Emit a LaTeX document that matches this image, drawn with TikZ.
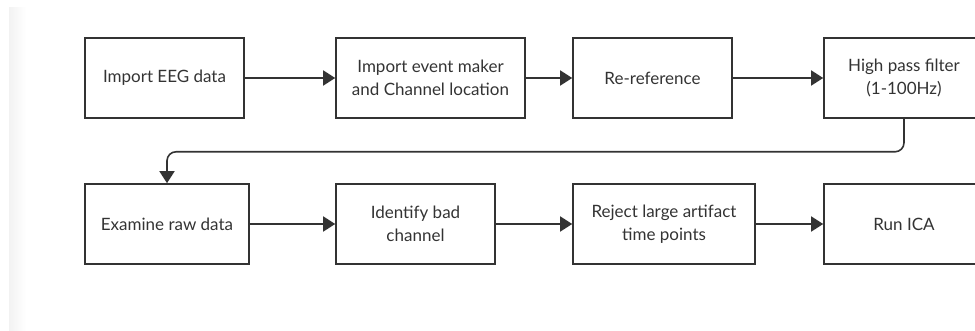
\documentclass[tikz,border=0pt]{standalone}
\usepackage{fontspec}
\setmainfont{Lato}
\usetikzlibrary{arrows.meta}
\definecolor{ink}{HTML}{333333}

\begin{document}
\begin{tikzpicture}[x=1pt, y=-1pt, line width=1.6pt]
    \tikzset{step box/.style={draw=ink, rectangle, minimum height=80pt, align=center,
                 text=ink, font=\fontsize{17}{23.5}\selectfont, inner sep=0pt},
             flow/.style={draw=ink, -{Triangle[length=12pt, width=15pt]}}};
    \useasboundingbox (0, 0) rectangle (975, 331);
    \clip (0, 0) rectangle (975, 331);
    % faint strip on the left
    \fill[left color=black!5, right color=white, draw=none] (9, 8) rectangle (26, 331);
    % First row
    \node[step box, minimum width=159pt] (imp)   at (164.5, 78) {Import EEG data};
    \node[step box, minimum width=189pt] (evt)   at (430.5, 78) {Import event maker\\and Channel location};
    \node[step box, minimum width=159pt] (reref) at (652.5, 78) {Re-reference};
    \node[step box, minimum width=160pt] (hpf)   at (904, 78)   {High pass filter\\(1-100Hz)};
    % Second row
    \node[step box, minimum width=164pt] (exam)  at (167, 224)  {Examine raw data};
    \node[step box, minimum width=159pt] (badch) at (415.5, 224) {Identify bad\\channel};
    \node[step box, minimum width=182pt] (rej)   at (664, 224)  {Reject large artifact\\time points};
    \node[step box, minimum width=160pt] (ica)   at (904, 224)  {Run ICA};
    \foreach \a/\b in {imp/evt, evt/reref, reref/hpf, exam/badch, badch/rej, rej/ica}{
        \draw[flow] (\a) -- (\b);
    }
    % wrap down to the second row
    \draw[flow, rounded corners=9pt] (hpf.south) -- ++(0, 33) -| (exam.north);
\end{tikzpicture}
\end{document}
